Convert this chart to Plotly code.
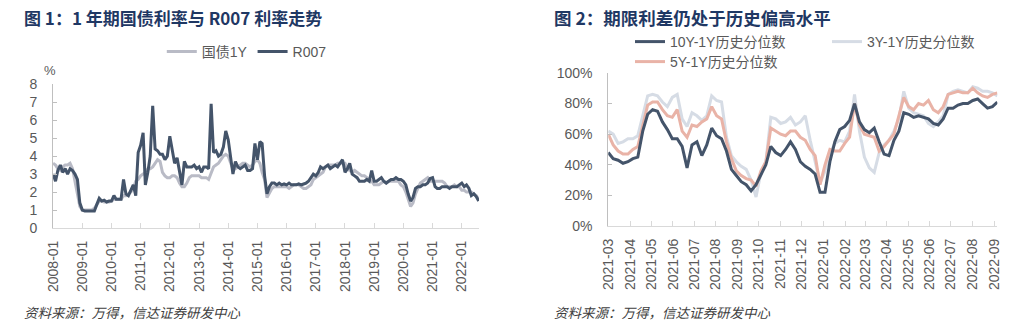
import plotly.graph_objects as go
import pandas as pd

# ---------------- data: chart 1 (monthly, 2008-01 .. 2022-08) ----------------
months = pd.date_range("2008-01-01", periods=176, freq="MS")

gz1y = [
    3.6, 3.5, 3.3, 3.2, 3.4, 3.5, 3.5, 3.6, 3.3, 2.6, 1.9, 1.2,      # 2008
    1.0, 1.0, 1.0, 1.0, 1.0, 1.1, 1.3, 1.5, 1.5, 1.45, 1.45, 1.45,   # 2009
    1.5, 1.6, 1.6, 1.6, 1.6, 1.8, 1.8, 1.9, 2.0, 2.2, 2.6, 2.7,      # 2010
    2.9, 3.0, 3.1, 3.3, 3.3, 3.4, 3.6, 3.8, 3.7, 3.1, 2.9, 2.8,      # 2011
    2.8, 2.9, 2.9, 2.8, 2.5, 2.3, 2.3, 2.5, 2.8, 2.9, 2.9, 2.9,      # 2012
    2.9, 2.8, 2.8, 2.8, 2.7, 3.1, 3.4, 3.5, 3.6, 3.8, 4.0, 4.1,      # 2013
    4.0, 3.6, 3.3, 3.3, 3.4, 3.5, 3.6, 3.6, 3.5, 3.4, 3.5, 3.7,      # 2014
    3.8, 3.6, 3.1, 2.7, 1.7, 2.0, 2.2, 2.3, 2.3, 2.3, 2.3, 2.3,      # 2015
    2.3, 2.2, 2.3, 2.4, 2.4, 2.4, 2.3, 2.2, 2.2, 2.3, 2.4, 2.7,      # 2016
    2.8, 2.9, 3.0, 3.1, 3.4, 3.5, 3.5, 3.5, 3.5, 3.6, 3.6, 3.6,      # 2017
    3.6, 3.3, 3.2, 3.1, 3.2, 3.1, 3.0, 2.9, 2.9, 2.8, 2.7, 2.6,      # 2018
    2.4, 2.4, 2.4, 2.5, 2.6, 2.5, 2.6, 2.6, 2.6, 2.6, 2.6, 2.4,      # 2019
    2.3, 2.0, 1.6, 1.2, 1.4, 1.9, 2.2, 2.5, 2.6, 2.7, 2.8, 2.6,      # 2020
    2.6, 2.6, 2.6, 2.6, 2.6, 2.5, 2.3, 2.3, 2.3, 2.4, 2.3, 2.3,      # 2021
    2.1, 2.1, 2.0, 2.0, 2.0, 1.9, 1.8, 1.6,                          # 2022
]

r007 = [
    3.0, 2.6, 3.2, 3.5, 3.1, 3.3, 3.0, 3.3, 3.2, 3.0, 2.7, 1.4,      # 2008
    1.0, 0.95, 0.95, 0.95, 0.95, 0.95, 1.3, 1.65, 1.5, 1.55, 1.45, 1.5,  # 2009
    1.5, 1.8, 1.6, 1.6, 1.6, 2.7, 1.9, 1.8, 2.1, 2.4, 1.8, 4.2,      # 2010
    4.6, 5.3, 2.4, 3.1, 4.0, 6.8, 4.4, 4.3, 4.1, 4.1, 3.8, 4.0,      # 2011
    5.1, 4.3, 3.6, 3.9, 3.2, 2.4, 3.7, 3.4, 3.4, 3.4, 3.5, 3.3,      # 2012
    3.4, 3.1, 3.4, 3.4, 3.3, 6.9, 4.2, 4.3, 4.0, 4.1, 4.5, 5.4,      # 2013
    4.9, 3.8, 3.0, 3.7, 3.4, 3.3, 3.4, 3.5, 3.2, 3.2, 3.3, 4.7,      # 2014
    3.8, 4.8, 4.7, 2.9, 1.9, 2.3, 2.5, 2.5, 2.4, 2.5, 2.4, 2.45,     # 2015
    2.4, 2.5, 2.4, 2.4, 2.4, 2.45, 2.4, 2.45, 2.5, 2.6, 2.8, 3.0,    # 2016
    2.9, 3.1, 3.4, 3.3, 3.4, 3.5, 3.3, 3.4, 3.5, 3.4, 3.6, 3.8,      # 2017
    3.1, 3.3, 3.6, 3.0, 2.9, 2.8, 2.6, 2.6, 2.6, 2.7, 2.6, 3.2,      # 2018
    2.6, 2.6, 2.7, 2.8, 2.6, 2.5, 2.6, 2.7, 2.7, 2.8, 2.7, 2.7,      # 2019
    2.6, 2.4, 1.9, 1.5, 1.7, 2.2, 2.3, 2.3, 2.4, 2.4, 2.5, 2.75,     # 2020
    2.8, 2.3, 2.2, 2.2, 2.3, 2.3, 2.3, 2.2, 2.3, 2.3, 2.3, 2.4,      # 2021
    2.5, 2.3, 2.4, 2.2, 1.8, 1.9, 1.75, 1.5,                         # 2022
]

left_ticks = pd.date_range("2008-01-01", "2022-01-01", freq="YS")

# ---------------- data: chart 2 (weekly, 2021-03 .. 2022-09), percentile % ----------------
weeks = pd.date_range("2021-03-01", periods=80, freq="7D")

spread_10y = [48, 44, 43, 41, 42, 44, 45, 62, 73, 76,
              75, 68, 63, 57, 57, 52, 38, 53, 55, 46,
              53, 64, 59, 57, 49, 37, 33, 29, 27, 23,
              27, 34, 40, 52, 48, 46, 50, 55, 50, 42,
              39, 37, 34, 22, 22, 42, 55, 63, 65, 69,
              80, 68, 63, 61, 64, 55, 47, 46, 56, 62,
              74, 73, 71, 72, 71, 70, 67, 66, 70, 77,
              77, 79, 80, 80, 82, 83, 80, 77, 78, 81]

spread_3y = [62, 60, 54, 55, 57, 57, 59, 72, 85, 86,
             85, 81, 78, 84, 86, 70, 65, 74, 72, 69,
             72, 85, 82, 81, 58, 46, 42, 39, 37, 30,
             19, 35, 42, 71, 70, 67, 68, 71, 66, 68,
             72, 56, 42, 28, 36, 47, 54, 56, 55, 62,
             86, 62, 45, 38, 35, 48, 53, 56, 62, 70,
             88, 77, 74, 73, 72, 67, 65, 68, 72, 86,
             88, 89, 88, 87, 91, 90, 88, 88, 87, 85]

spread_5y = [60, 53, 49, 47, 47, 50, 52, 65, 79, 81,
             81, 76, 72, 71, 76, 62, 58, 66, 65, 68,
             70, 78, 72, 70, 55, 44, 36, 33, 31, 30,
             26, 36, 42, 64, 62, 60, 59, 62, 62, 58,
             56, 50, 46, 27, 40, 50, 49, 49, 54, 58,
             80, 66, 60, 59, 58, 49, 52, 56, 60, 72,
             84, 78, 76, 80, 79, 82, 76, 74, 78, 86,
             87, 88, 87, 87, 90, 87, 85, 84, 86, 87]

right_ticks = pd.date_range("2021-03-01", "2022-09-01", freq="MS")

# ---------------- styles ----------------
NAVY = "#44546A"
GRAY = "#B9BBC6"
LIGHTBLUE = "#D6DCE5"
PINK = "#E9B3A7"
TITLE_C = "#1F3864"
TICK_C = "#595959"
FONT = "Liberation Sans, Arial, Noto Sans CJK SC, sans-serif"
CJK = "Noto Sans CJK SC, sans-serif"

fig = go.Figure()

fig.add_trace(go.Scatter(x=months, y=gz1y, name="国债1Y", mode="lines",
                         line=dict(color=GRAY, width=3), xaxis="x", yaxis="y",
                         legend="legend", legendrank=1))
fig.add_trace(go.Scatter(x=months, y=r007, name="R007", mode="lines",
                         line=dict(color=NAVY, width=3), xaxis="x", yaxis="y",
                         legend="legend", legendrank=2))

fig.add_trace(go.Scatter(x=weeks, y=spread_3y, name="3Y-1Y历史分位数", mode="lines",
                         line=dict(color=LIGHTBLUE, width=3), xaxis="x2", yaxis="y2",
                         legend="legend3"))
fig.add_trace(go.Scatter(x=weeks, y=spread_5y, name="5Y-1Y历史分位数", mode="lines",
                         line=dict(color=PINK, width=3), xaxis="x2", yaxis="y2",
                         legend="legend4"))
fig.add_trace(go.Scatter(x=weeks, y=spread_10y, name="10Y-1Y历史分位数", mode="lines",
                         line=dict(color=NAVY, width=3), xaxis="x2", yaxis="y2",
                         legend="legend2"))

legend_common = dict(orientation="h", bgcolor="rgba(0,0,0,0)", xanchor="left",
                     yanchor="middle", font=dict(size=14, color=TICK_C, family=FONT),
                     itemclick=False, itemdoubleclick=False)

axis_x = dict(type="date", tickformat="%Y-%m", tickangle=-90, showgrid=False,
              zeroline=False, showline=True, linecolor="#D9D9D9", linewidth=1,
              ticks="inside", ticklen=5, tickcolor="#D9D9D9",
              tickfont=dict(size=14, color=TICK_C, family=FONT), ticklabelstandoff=6)
axis_y = dict(showgrid=False, zeroline=False, showline=True, linecolor="#BFBFBF",
              linewidth=1, ticks="inside", ticklen=4, tickcolor="#BFBFBF",
              tickfont=dict(size=14, color=TICK_C, family=FONT))

fig.update_layout(
    width=1024, height=330,
    margin=dict(l=0, r=0, t=0, b=0, autoexpand=False),
    paper_bgcolor="white", plot_bgcolor="white",
    showlegend=True,
    xaxis=dict(axis_x, domain=[0.0518, 0.4678], anchor="y",
               range=["2008-01-01", "2022-08-05"], tickvals=left_ticks),
    yaxis=dict(axis_y, domain=[0.309, 0.745], anchor="x", range=[0, 8], dtick=1,
               ticklabelstandoff=12),
    xaxis2=dict(axis_x, domain=[0.594, 0.974], anchor="y2",
                range=["2021-03-01", "2022-09-05"], tickvals=right_ticks),
    yaxis2=dict(axis_y, domain=[0.315, 0.779], anchor="x2", range=[0, 100], dtick=20,
                ticksuffix="%", ticklabelstandoff=12),
    legend=dict(legend_common, x=0.158, y=1 - 52 / 330),
    legend2=dict(legend_common, x=630 / 1024, y=1 - 42 / 330),
    legend3=dict(legend_common, x=827 / 1024, y=1 - 42 / 330),
    legend4=dict(legend_common, x=630 / 1024, y=1 - 62 / 330),
    annotations=[
        dict(text="<b>图 1：1 年期国债利率与 R007 利率走势</b>", x=22 / 1024, y=1 - 17 / 330,
             xref="paper", yref="paper", xanchor="left", yanchor="middle", showarrow=False,
             font=dict(size=17, color=TITLE_C, family=CJK)),
        dict(text="<b>图 2：期限利差仍处于历史偏高水平</b>", x=552 / 1024, y=1 - 17 / 330,
             xref="paper", yref="paper", xanchor="left", yanchor="middle", showarrow=False,
             font=dict(size=17.5, color=TITLE_C, family=CJK)),
        dict(text="%", x=50 / 1024, y=1 - 70 / 330, xref="paper", yref="paper",
             xanchor="center", yanchor="middle", showarrow=False,
             font=dict(size=13, color=TICK_C, family=FONT)),
        dict(text="<i>资料来源：万得，信达证券研发中心</i>", x=22 / 1024, y=1 - 312 / 330,
             xref="paper", yref="paper", xanchor="left", yanchor="middle", showarrow=False,
             font=dict(size=13.5, color="#404040", family=CJK)),
        dict(text="<i>资料来源：万得，信达证券研发中心</i>", x=552 / 1024, y=1 - 312 / 330,
             xref="paper", yref="paper", xanchor="left", yanchor="middle", showarrow=False,
             font=dict(size=13.5, color="#404040", family=CJK)),
    ],
)

fig.write_html("out.html")
